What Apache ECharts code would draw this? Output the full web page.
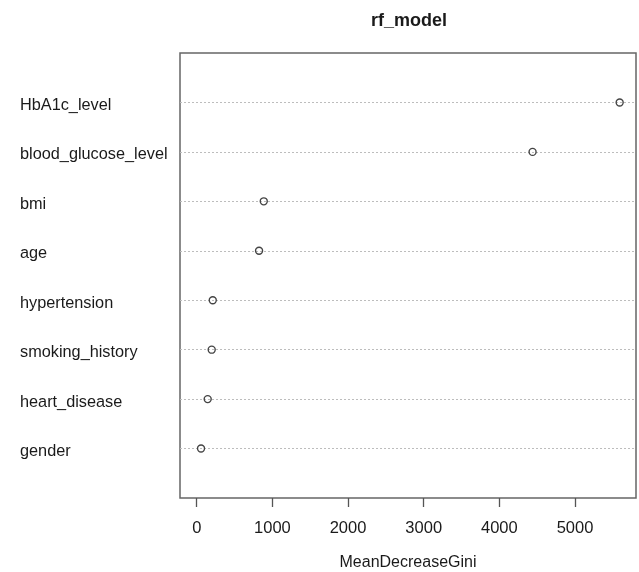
<!DOCTYPE html>
<html>
<head>
<meta charset="utf-8">
<script src="https://cdn.jsdelivr.net/npm/echarts@6/dist/echarts.min.js"></script>
<style>
html,body{margin:0;padding:0;background:#fff;}
#c{width:639px;height:572px;}
</style>
</head>
<body>
<div id="c"></div>
<script>
// Variables listed bottom-to-top (R dotchart order: row 1 at bottom)
var categories = ["gender", "heart_disease", "smoking_history", "hypertension", "age", "bmi", "blood_glucose_level", "HbA1c_level"];
var meanDecreaseGini = [57, 145, 198, 212, 824, 886, 4439, 5590];
var xTicks = [0, 1000, 2000, 3000, 4000, 5000];

var points = meanDecreaseGini.map(function (v, i) { return [v, i + 1]; });
var rowLines = categories.map(function (c, i) { return { yAxis: i + 1 }; });

var chart = echarts.init(document.getElementById('c'));
var font = 'Liberation Sans, Arial, sans-serif';
chart.setOption({
  animation: false,
  backgroundColor: '#fff',
  title: {
    text: 'rf_model',
    left: 366,
    top: 7,
    textStyle: { fontFamily: font, fontSize: 18, fontWeight: 'bold', color: '#1a1a1a' }
  },
  grid: {
    left: 180, right: 3, top: 53, bottom: 74,
    outerBoundsMode: 'none', containLabel: false,
    show: true, borderColor: '#666', borderWidth: 1.5, backgroundColor: 'transparent'
  },
  xAxis: {
    type: 'value',
    min: -221, max: 5806,
    name: 'MeanDecreaseGini',
    nameLocation: 'middle',
    nameGap: 57,
    nameTextStyle: { fontFamily: font, fontSize: 16, color: '#1a1a1a' },
    axisLine: { show: false },
    axisTick: { show: true, customValues: xTicks, length: 9, lineStyle: { color: '#555', width: 1.3 } },
    axisLabel: {
      customValues: xTicks, margin: 22, fontFamily: font, fontSize: 16.5, color: '#1a1a1a',
      formatter: function (v) { return String(v); }
    },
    splitLine: { show: false }
  },
  yAxis: {
    type: 'value',
    min: 0, max: 9, interval: 1,
    axisLine: { show: false },
    axisTick: { show: false },
    axisLabel: {
      align: 'left', margin: 160, verticalAlign: 'middle',
      fontFamily: font, fontSize: 16.3, color: '#1a1a1a',
      showMinLabel: false, showMaxLabel: false,
      formatter: function (v) { var c = categories[v - 1]; return c ? '{a|' + c + '}' : ''; },
      rich: { a: { fontFamily: font, fontSize: 16.3, color: '#1a1a1a', padding: [6, 0, 0, 0] } }
    },
    splitLine: { show: false }
  },
  series: [{
    type: 'scatter',
    data: points,
    symbol: 'circle',
    symbolSize: 7,
    itemStyle: { color: 'rgba(255,255,255,0)', borderColor: '#444', borderWidth: 1.4, opacity: 1 },
    z: 5,
    markLine: {
      silent: true,
      symbol: ['none', 'none'],
      label: { show: false },
      lineStyle: { color: '#bdbdbd', type: [2, 2], width: 1 },
      emphasis: { disabled: true },
      data: rowLines
    }
  }]
});
</script>
</body>
</html>
